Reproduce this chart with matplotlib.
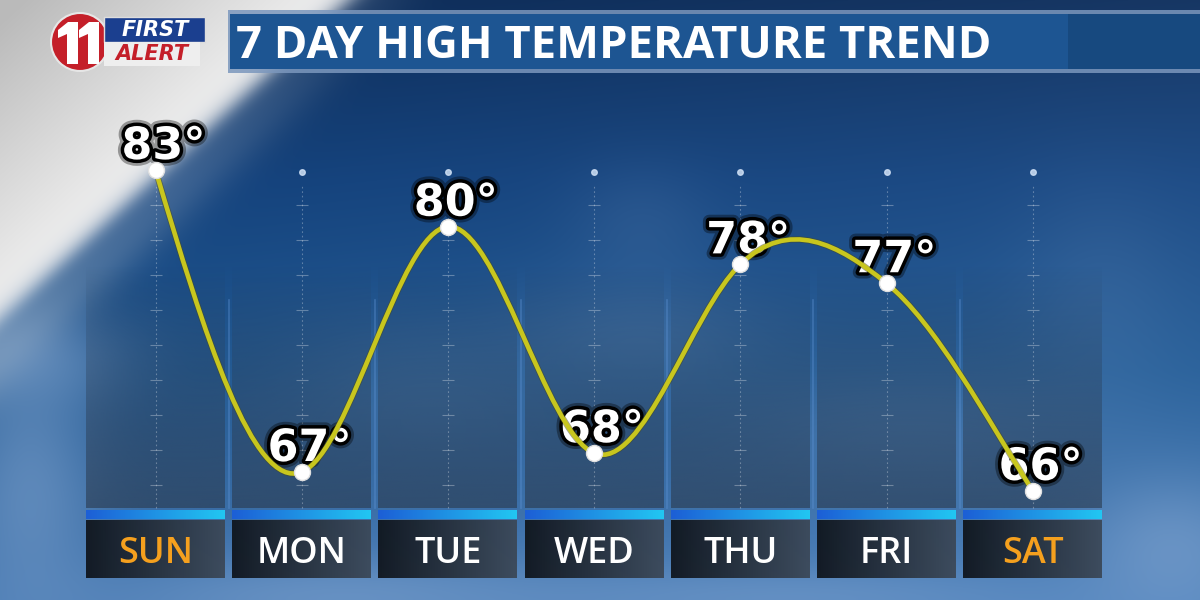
import numpy as np
import matplotlib
matplotlib.use("Agg")
import matplotlib.pyplot as plt
import matplotlib.patheffects as pe
from matplotlib.patches import Rectangle, Circle, Polygon, PathPatch
from matplotlib.path import Path

# data
days = ["SUN", "MON", "TUE", "WED", "THU", "FRI", "SAT"]
highs = [83, 67, 80, 68, 78, 77, 66]
weekend = ["SUN", "SAT"]
title = "7 DAY HIGH TEMPERATURE TREND"

W, H = 1200, 600
# pixel calibration of the chart area
X_FIRST = 155.5      # centre of first day column
DAY_STEP = 146.2     # px between columns
Y_REF, T_REF = 170, 83
DEG_STEP = 18.875    # px per degree
TENSION = 0.75       # softens the spline at inner points


def hex2rgb(h):
    return np.array([int(h[i:i + 2], 16) for i in (1, 3, 5)]) / 255.0


fig = plt.figure(figsize=(12, 6), dpi=100)

# ---------------- decoration layer (pixel coords) ----------------
bg = fig.add_axes([0, 0, 1, 1])
bg.set_xlim(0, W)
bg.set_ylim(H, 0)
bg.axis("off")

yy, xx = np.mgrid[0:H, 0:W].astype(float)
img = np.zeros((H, W, 3))
stops_pos = [0, 0.3, 0.62, 1.0]
stops_col = [hex2rgb(c) for c in ["#0a2a57", "#12407a", "#1f568f", "#4779b2"]]
for k in range(3):
    img[..., k] = np.interp(yy / H, stops_pos, [c[k] for c in stops_col])
img += 0.05 * (xx / W)[..., None]

cloud = hex2rgb("#86a8d2")
blobs = [(640, 340, 120, 60, 0.22), (420, 390, 140, 70, 0.18), (900, 430, 170, 60, 0.18),
         (1170, 545, 90, 70, 0.5), (330, 595, 220, 40, 0.45), (30, 480, 70, 130, 0.5),
         (780, 595, 260, 30, 0.35), (640, 220, 70, 60, 0.12), (1100, 300, 80, 120, 0.12),
         (40, 360, 90, 50, 0.45)]
for cx, cy, sx, sy, amp in blobs:
    w = amp * np.exp(-(((xx - cx) / sx) ** 2 + ((yy - cy) / sy) ** 2))
    img = img * (1 - w[..., None]) + cloud * w[..., None]

# light diagonal band at top-left
d = (yy + 0.92 * xx - 320) / np.hypot(1, 0.92)
grey = 0.95 - 0.22 * np.clip(-d / 220, 0, 1)
wl = 1 / (1 + np.exp(d / 6))
img = img * (1 - wl[..., None]) + grey[..., None] * wl[..., None]
# soft haze just below the edge
wh = 0.35 * np.exp(-((d - 25) / 30) ** 2) * np.clip(1 - xx / 500, 0, 1)
img = img * (1 - wh[..., None]) + hex2rgb("#b9c6d4") * wh[..., None]
img = np.clip(img, 0, 1)
bg.imshow(img, extent=(0, W, H, 0), aspect="auto", interpolation="bilinear", zorder=0)

half = 69.5
bar_l, bar_r = hex2rgb("#1c5fd6"), hex2rgb("#22c6f2")
box_l, box_r = hex2rgb("#10161e"), hex2rgb("#3c4959")
tt = np.linspace(0, 1, 64)
for i in range(len(days)):
    cx = X_FIRST + i * DAY_STEP
    # muted panel behind each column
    panel = np.zeros((100, 1, 4))
    panel[..., :3] = hex2rgb("#2a3a4e")
    panel[:, 0, 3] = np.linspace(0, 0.55, 100) ** 0.8
    bg.imshow(panel, extent=(cx - half, cx + half, 508, 265), aspect="auto", zorder=1)
    if i < len(days) - 1:
        bg.plot([cx + half + 3.5] * 2, [300, 508], color="#5b8fd0", alpha=0.45, lw=1.2, zorder=1)
    # blue bar
    bar = (bar_l[None, :] * (1 - tt[:, None]) + bar_r[None, :] * tt[:, None])[None, ...]
    bg.imshow(bar, extent=(cx - half, cx + half, 519, 510), aspect="auto", zorder=2)
    # day box
    box = (box_l[None, :] * (1 - tt[:, None]) + box_r[None, :] * tt[:, None])[None, ...]
    bg.imshow(box, extent=(cx - half, cx + half, 578, 520), aspect="auto", zorder=2, alpha=0.95)

# title bar
bg.add_patch(Rectangle((228, 10), 972, 63, fc="#7b97bd", ec="none", alpha=0.85, zorder=3))
bg.add_patch(Rectangle((230, 14), 970, 55, fc="#1d5592", ec="none", zorder=3))
bg.add_patch(Rectangle((1068, 14), 132, 55, fc="#17497f", ec="none", zorder=3))
ttl = bg.text(236, 58, title, color="white", fontsize=30, fontweight="bold",
              family="Open Sans", ha="left", va="baseline", zorder=4)
r = fig.canvas.get_renderer()
wpx = ttl.get_window_extent(r).width
ttl.set_fontsize(30 * 754 / wpx)

# logo
bg.add_patch(Circle((80, 42), 29, fc="#c41f29", ec="#e6e6e6", lw=1.5, zorder=4))
one = [(58, 30), (68, 22), (78, 22), (78, 64), (67, 64), (67, 34), (58, 38)]
bg.add_patch(Polygon(one, closed=True, fc="white", ec="none", zorder=5))
bg.add_patch(Polygon([(x + 21, y) for x, y in one], closed=True, fc="white", ec="none", zorder=5))
bg.add_patch(Rectangle((104, 17), 101, 25, fc="#1b3f8f", ec="#dddddd", lw=1, zorder=6))
bg.add_patch(Rectangle((104, 42), 96, 24, fc="#eeeeee", ec="none", zorder=6))
bg.text(155, 30, "FIRST", color="white", fontsize=15, fontweight="bold", style="italic",
        ha="center", va="center", zorder=7)
bg.text(152, 54, "ALERT", color="#c41f29", fontsize=15, fontweight="bold", style="italic",
        ha="center", va="center", zorder=7)

# ---------------- chart layer (data coords) ----------------
ax = fig.add_axes([0, 0, 1, 1])
ax.patch.set_alpha(0)
ax.axis("off")
t_top = T_REF + Y_REF / DEG_STEP
t_bot = T_REF - (H - Y_REF) / DEG_STEP
ax.set_xlim(-X_FIRST / DAY_STEP, (W - X_FIRST) / DAY_STEP)
ax.set_ylim(t_bot, t_top)


def ty(py):
    return t_top - py / DEG_STEP


x = np.arange(len(days))
ax.vlines(x, ty(508), ty(186), colors="white", alpha=0.3, lw=0.8,
          linestyles=(0, (1.5, 2.5)), zorder=2)
for py in np.arange(205, 508, 35):
    ax.plot(x, [ty(py)] * len(x), ls="none", marker="_", ms=8, mew=0.8,
            color="white", alpha=0.3, zorder=2)
ax.plot(x, [ty(172)] * len(x), ls="none", marker="o", ms=4, color="#cfe0f5", alpha=0.85, zorder=2)

# smooth curve: natural cubic spline drawn as bezier segments
y = np.array(highs, dtype=float)
n = len(y)
A = np.zeros((n, n))
rhs = np.zeros(n)
A[0, 0] = A[-1, -1] = 1
for i in range(1, n - 1):
    A[i, i - 1], A[i, i], A[i, i + 1] = 1, 4, 1
    rhs[i] = 6 * (y[i + 1] - 2 * y[i] + y[i - 1])
M = np.linalg.solve(A, rhs)
s = np.zeros(n)
for i in range(n - 1):
    s[i] = (y[i + 1] - y[i]) - (2 * M[i] + M[i + 1]) / 6
s[-1] = (y[-1] - y[-2]) + (2 * M[-1] + M[-2]) / 6
s[1:-1] *= TENSION
verts = [(x[0], y[0])]
codes = [Path.MOVETO]
for i in range(n - 1):
    verts += [(x[i] + 1 / 3, y[i] + s[i] / 3), (x[i + 1] - 1 / 3, y[i + 1] - s[i + 1] / 3),
              (x[i + 1], y[i + 1])]
    codes += [Path.CURVE4] * 3

for xi, v in zip(x, highs):
    ax.annotate(f"{v}°", (xi, v), xytext=(8, 11), textcoords="offset pixels",
                ha="center", va="baseline", fontsize=32, fontweight="bold",
                family="DejaVu Sans", color="white", zorder=4,
                path_effects=[pe.withStroke(linewidth=9, foreground="black", alpha=0.35),
                              pe.withStroke(linewidth=5, foreground="black")])

ax.add_patch(PathPatch(Path(verts, codes), fc="none", ec="#c8c61e", lw=3.3, zorder=5,
                       capstyle="round",
                       path_effects=[pe.Stroke(linewidth=4.5, foreground="#4a4a18", alpha=0.5),
                                     pe.Normal()]))

ax.plot(x, highs, ls="none", marker="o", ms=11.5, color="white", mec="#e0e0e0", zorder=6)

for xi, dname in zip(x, days):
    ax.text(xi, ty(563), dname, ha="center", va="baseline", fontsize=26,
            family="Open Sans", fontweight="semibold",
            color="#f5a01e" if dname in weekend else "white", zorder=7)

fig.savefig("out.png", dpi=100)
